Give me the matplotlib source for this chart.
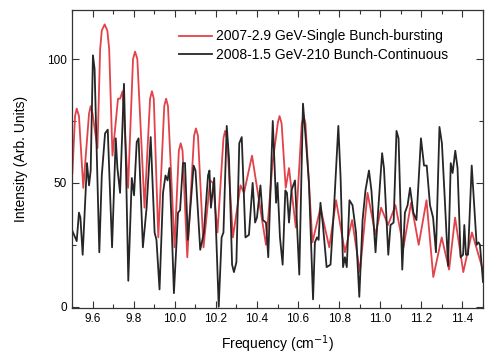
import matplotlib
matplotlib.use("Agg")
import matplotlib.pyplot as plt
from matplotlib.ticker import MultipleLocator

# 2007 single bunch (red)
red_x = [9.502, 9.515, 9.523, 9.534, 9.555, 9.583, 9.591, 9.600, 9.624, 9.637,
         9.645, 9.659, 9.672, 9.681, 9.697, 9.724, 9.734, 9.746, 9.773, 9.797,
         9.807, 9.818, 9.853, 9.880, 9.889, 9.898, 9.920, 9.949, 9.958, 9.967,
         9.999, 10.020, 10.029, 10.038, 10.061, 10.094, 10.103, 10.113, 10.140, 10.172,
         10.186, 10.208, 10.237, 10.245, 10.254, 10.283, 10.320, 10.337, 10.376, 10.444,
         10.476, 10.502, 10.510, 10.520, 10.540, 10.556, 10.589, 10.618, 10.627, 10.636,
         10.670, 10.709, 10.752, 10.785, 10.828, 10.863, 10.901, 10.938, 10.977, 11.004,
         11.038, 11.074, 11.113, 11.150, 11.187, 11.225, 11.258, 11.299, 11.335, 11.364,
         11.404, 11.446, 11.499]
red_y = [54, 77, 80, 77, 48, 78, 81, 78, 64, 104,
         111.5, 114, 111.5, 104, 61, 84, 84, 87, 48, 100,
         103, 100, 40, 84, 87, 84, 28, 81, 84, 81,
         24, 63, 66, 63, 20, 69, 72, 69, 24, 51,
         50, 30, 68, 71, 68, 28, 49, 46, 61, 25,
         58, 74.5, 77, 74, 48, 56, 32, 74, 77, 74,
         26, 40, 24, 43, 22, 35, 14, 46, 29, 40,
         33, 41, 24, 42, 25, 43, 12, 28, 15, 36,
         14, 30, 15]

# 2008 210 bunch (black)
blk_x = [9.500, 9.523, 9.534, 9.541, 9.552, 9.573, 9.583, 9.591, 9.602, 9.610,
         9.633, 9.645, 9.661, 9.674, 9.695, 9.713, 9.721, 9.734, 9.753, 9.763,
         9.774, 9.791, 9.802, 9.815, 9.824, 9.845, 9.863, 9.883, 9.902, 9.911,
         9.926, 9.943, 9.955, 9.965, 9.974, 9.984, 9.996, 10.016, 10.026, 10.040,
         10.050, 10.064, 10.092, 10.101, 10.124, 10.142, 10.162, 10.169, 10.176, 10.192,
         10.214, 10.228, 10.237, 10.253, 10.264, 10.279, 10.288, 10.300, 10.314, 10.326,
         10.344, 10.361, 10.379, 10.391, 10.400, 10.417, 10.429, 10.444, 10.455, 10.477,
         10.493, 10.500, 10.512, 10.525, 10.538, 10.546, 10.556, 10.568, 10.585, 10.606,
         10.624, 10.640, 10.653, 10.673, 10.682, 10.692, 10.700, 10.709, 10.721, 10.739,
         10.758, 10.775, 10.796, 10.807, 10.819, 10.828, 10.837, 10.850, 10.865, 10.882,
         10.898, 10.914, 10.928, 10.945, 10.957, 10.977, 10.989, 11.009, 11.018, 11.039,
         11.050, 11.065, 11.079, 11.089, 11.107, 11.120, 11.133, 11.145, 11.161, 11.176,
         11.198, 11.213, 11.226, 11.242, 11.257, 11.271, 11.288, 11.300, 11.313, 11.330,
         11.343, 11.352, 11.365, 11.376, 11.391, 11.403, 11.409, 11.417, 11.427, 11.445,
         11.456, 11.469, 11.478, 11.485, 11.500]
blk_y = [31, 26.5, 38, 36, 21, 58, 49, 55, 101.5, 96,
         22, 53, 70, 71.5, 24, 68, 56, 46, 90, 56,
         10.5, 52, 45, 66.5, 68, 24, 40, 68.5, 30, 27,
         7, 46, 53, 51, 56, 35, 5.5, 38, 39, 58,
         58, 27, 57, 55, 23, 30, 53, 55, 40, 52,
         0, 28, 30, 73, 60, 17, 14, 18, 66, 68.5,
         28, 29, 50, 34, 36, 49, 35, 34, 20, 75,
         42, 50, 28, 17, 47, 46, 34, 47, 51, 13,
         82, 65, 50, 3, 26, 28, 27, 42, 33, 16,
         17, 40, 73, 52, 16, 20, 16, 43, 41, 30,
         4, 35, 47, 55, 47, 22, 38, 62, 56, 21,
         33, 34, 71, 68, 15, 38, 41, 48, 38, 35,
         68, 57, 57, 41, 36, 22, 72.6, 66, 45, 16.5,
         58, 54, 63, 56, 20, 21, 33, 21, 21, 57,
         42, 25, 26, 25, 10]

plt.rcParams["font.family"] = ["Liberation Sans", "DejaVu Sans"]

fig = plt.figure(figsize=(4.88, 3.55), dpi=100)
ax = fig.add_axes([0.1475, 0.1324, 0.8423, 0.8408])

ax.plot(red_x, red_y, color="#e2424a", lw=1.3, solid_joinstyle="round",
        label="2007-2.9 GeV-Single Bunch-bursting")
ax.plot(blk_x, blk_y, color="#262626", lw=1.3,
        label="2008-1.5 GeV-210 Bunch-Continuous")

ax.set_xlim(9.5, 11.5)
ax.set_ylim(-0.5, 120)
ax.xaxis.set_major_locator(MultipleLocator(0.2))
ax.xaxis.set_minor_locator(MultipleLocator(0.1))
ax.yaxis.set_major_locator(MultipleLocator(50))
ax.yaxis.set_minor_locator(MultipleLocator(25))
ax.tick_params(which="both", direction="in", top=True, right=True,
               labelsize=8.5, color="#333333", width=0.8)
ax.tick_params(which="major", length=5)
ax.tick_params(which="minor", length=3)
for s in ax.spines.values():
    s.set_color("#333333")
    s.set_linewidth(0.9)

ax.set_xlabel("Frequency (cm$^{-1}$)", fontsize=10, labelpad=6)
ax.set_ylabel("Intensity (Arb. Units)", fontsize=10, labelpad=14)

ax.legend(loc="upper right", frameon=False, fontsize=10, handlelength=2.4,
          handletextpad=0.25, labelspacing=0.35, borderaxespad=0.5,
          bbox_to_anchor=(0.945, 0.975))

fig.savefig("out.png", dpi=100)
